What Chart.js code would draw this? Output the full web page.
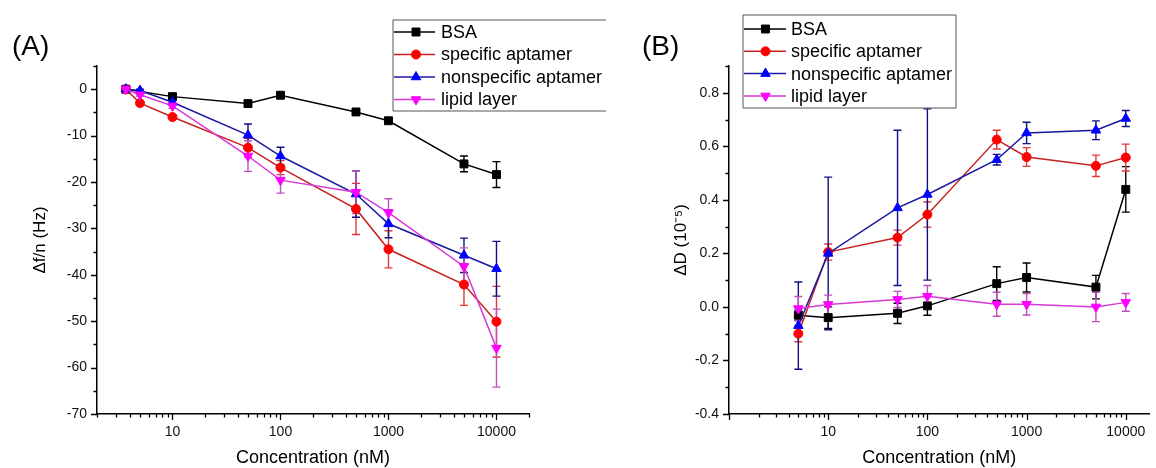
<!DOCTYPE html>
<html>
<head>
<meta charset="utf-8">
<script src="https://cdn.jsdelivr.net/npm/chart.js@4.4.0/dist/chart.umd.min.js"></script>
<style>
    body { margin: 0; background: #fff; width: 1156px; height: 468px; overflow: hidden; position: relative; }
    canvas { position: absolute; top: 0; }
    #chartA { left: 0; }
    #chartB { left: 620px; }
</style>
</head>
<body>
<canvas id="chartA" width="620" height="468"></canvas>
<canvas id="chartB" width="536" height="468"></canvas>
<script>
// Series names and tick labels
const seriesNames = ['BSA', 'specific aptamer', 'nonspecific aptamer', 'lipid layer'];
const xTickLabels = [10, 100, 1000, 10000];
const yTickLabelsA = [0, -10, -20, -30, -40, -50, -60, -70];
const yTickLabelsB = [0.8, 0.6, 0.4, 0.2, 0.0, -0.2, -0.4];

// (A) frequency shift, Hz
const concA = [3.7, 5, 10, 50, 100, 500, 1000, 5000, 10000];
const bsaA = [0, null, -1.6, -3.1, -1.3, -4.9, -6.8, -16.1, -18.4];
const bsaAErr = [0, 0, 0.3, 0.5, 0.4, 0.7, 0.5, 1.7, 2.8];
const specA = [0, -3.0, -6.0, -12.6, -16.9, -25.8, -34.5, -42.1, -50.1];
const specAErr = [0, 0.3, 0.4, 2.0, 1.5, 5.5, 4.0, 4.5, 7.6];
const nonA = [0, -0.3, -2.8, -9.9, -14.4, -22.6, -29.0, -35.8, -38.7];
const nonAErr = [0, 0.3, 0.5, 2.4, 1.9, 5.0, 3.0, 3.7, 5.9];
const lipA = [0, -1.2, -3.6, -14.4, -19.6, -22.2, -26.6, -38.2, -55.8];
const lipAErr = [0, 0.3, 0.5, 3.3, 2.8, 4.6, 3.0, 4.0, 8.4];

// (B) dissipation shift, 1e-5
const concB = [5, 10, 50, 100, 500, 1000, 5000, 10000];
const bsaB = [-0.031, -0.04, -0.024, 0.004, 0.087, 0.11, 0.074, 0.439];
const bsaBErr = [0.02, 0.04, 0.038, 0.035, 0.063, 0.054, 0.044, 0.085];
const specB = [-0.1, 0.205, 0.259, 0.345, 0.625, 0.56, 0.527, 0.558];
const specBErr = [0.03, 0.03, 0.028, 0.047, 0.035, 0.035, 0.04, 0.05];
const nonB = [-0.07, 0.2, 0.37, 0.42, 0.55, 0.65, 0.66, 0.704];
const nonBErr = [0.163, 0.285, 0.29, 0.32, 0.02, 0.04, 0.035, 0.03];
const lipB = [-0.006, 0.009, 0.028, 0.04, 0.01, 0.01, 0.0, 0.017];
const lipBErr = [0.045, 0.035, 0.03, 0.04, 0.045, 0.04, 0.055, 0.033];

const FONT = "'Liberation Sans', Arial, sans-serif";
Chart.defaults.font.family = FONT;
Chart.defaults.color = '#000';

const styles = [
    { line: '#000000', fill: '#000000', err: '#000000', shape: 'rect', r: 5.6, rot: 0 },
    { line: '#c82020', fill: '#ff0000', err: '#e03838', shape: 'circle', r: 4.5, rot: 0 },
    { line: '#1818a0', fill: '#0000ff', err: '#101080', shape: 'triangle', r: 5.5, rot: 0 },
    { line: '#d838d8', fill: '#ff00ff', err: '#c050c0', shape: 'triangle', r: 5.5, rot: 180 }
];

const makeSet = (i, xs, ys, errs) => {
    const s = styles[i];
    return {
        label: seriesNames[i],
        data: xs.map((x, k) => ({ x: x, y: ys[k] })),
        errors: errs,
        errColor: s.err,
        order: 3 - i,
        showLine: true,
        spanGaps: true,
        borderColor: s.line,
        borderWidth: 1.5,
        pointStyle: s.shape,
        pointRadius: s.r,
        pointHoverRadius: s.r,
        pointRotation: s.rot,
        pointBackgroundColor: s.fill,
        pointBorderColor: s.fill,
        pointBorderWidth: 1
    };
};

const logTicks = (min, max) => {
    const out = [];
    for (let e = 0; e <= 4; e++) {
        for (let m = 1; m <= 9; m++) {
            const v = m * Math.pow(10, e);
            if (v >= min && v <= max) out.push(v);
        }
    }
    return out;
};

const isDecade = (v) => Math.abs(Math.log10(v) - Math.round(Math.log10(v))) < 1e-9;

// Error bars, drawn under the lines and markers
const errorBars = {
    id: 'errorBars',
    beforeDatasetsDraw(chart) {
        const ctx = chart.ctx;
        const yScale = chart.scales.y;
        chart.data.datasets.forEach((ds, di) => {
            const meta = chart.getDatasetMeta(di);
            ctx.save();
            ctx.strokeStyle = ds.errColor;
            ctx.lineWidth = 1.4;
            meta.data.forEach((pt, k) => {
                const v = ds.data[k].y;
                const e = ds.errors[k];
                if (v === null || !e) return;
                const top = yScale.getPixelForValue(v + e);
                const bot = yScale.getPixelForValue(v - e);
                ctx.beginPath();
                ctx.moveTo(pt.x, top); ctx.lineTo(pt.x, bot);
                ctx.moveTo(pt.x - 4, top); ctx.lineTo(pt.x + 4, top);
                ctx.moveTo(pt.x - 4, bot); ctx.lineTo(pt.x + 4, bot);
                ctx.stroke();
            });
            ctx.restore();
        });
    }
};

// Outward tick marks, long for major, short for minor
const tickMarks = {
    id: 'tickMarks',
    afterDraw(chart, args, opts) {
        const ctx = chart.ctx;
        const { x, y } = chart.scales;
        ctx.save();
        ctx.strokeStyle = '#000';
        ctx.lineWidth = 1.3;
        ctx.beginPath();
        x.ticks.forEach(t => {
            const px = Math.round(x.getPixelForValue(t.value)) + 0.5;
            const len = isDecade(t.value) ? 6 : 3.5;
            ctx.moveTo(px, x.top); ctx.lineTo(px, x.top + len);
        });
        y.ticks.forEach(t => {
            const py = Math.round(y.getPixelForValue(t.value)) + 0.5;
            const r = t.value / opts.yMajor;
            const len = Math.abs(r - Math.round(r)) < 1e-6 ? 6 : 3.5;
            ctx.moveTo(y.right - len, py); ctx.lineTo(y.right, py);
        });
        ctx.stroke();
        ctx.restore();
    }
};

// Boxed legend and panel letter
const boxLegend = {
    id: 'boxLegend',
    afterDraw(chart, args, o) {
        const ctx = chart.ctx;
        ctx.save();
        ctx.strokeStyle = '#555';
        ctx.lineWidth = 1;
        ctx.beginPath();
        if (o.openRight) {
            ctx.moveTo(o.r, o.t); ctx.lineTo(o.l, o.t); ctx.lineTo(o.l, o.b); ctx.lineTo(o.r, o.b);
        } else {
            ctx.rect(o.l, o.t, o.r - o.l, o.b - o.t);
        }
        ctx.stroke();
        ctx.font = o.fontSize + 'px ' + FONT;
        ctx.textBaseline = 'middle';
        ctx.fillStyle = '#000';
        chart.data.datasets.forEach((ds, i) => {
            const s = styles[i];
            const ry = o.row0 + i * o.rowStep;
            ctx.strokeStyle = s.line;
            ctx.lineWidth = 1.5;
            ctx.beginPath();
            ctx.moveTo(o.line0, ry); ctx.lineTo(o.line1, ry);
            ctx.stroke();
            ctx.fillStyle = s.fill;
            ctx.strokeStyle = s.fill;
            ctx.lineWidth = 1;
            Chart.helpers.drawPoint(ctx, { pointStyle: s.shape, radius: s.r, rotation: s.rot, borderWidth: 1 }, o.mark, ry);
            ctx.fillStyle = '#000';
            ctx.fillText(ds.label, o.text, ry + 1);
        });
        ctx.font = '28px ' + FONT;
        ctx.textBaseline = 'middle';
        ctx.fillText(o.panel, o.panelX, o.panelY);
        ctx.restore();
    }
};

const makeOptions = (cfg) => ({
    responsive: false,
    animation: false,
    events: [],
    layout: { padding: cfg.padding },
    plugins: {
        legend: { display: false },
        tooltip: { enabled: false },
        tickMarks: { yMajor: cfg.yMajor },
        boxLegend: cfg.legend
    },
    scales: {
        x: {
            type: 'logarithmic',
            min: cfg.xMin,
            max: cfg.xMax,
            afterBuildTicks: (s) => { s.ticks = logTicks(cfg.xMin, cfg.xMax).map(v => ({ value: v })); },
            afterFit: (s) => { s.height = cfg.xHeight; },
            border: { display: true, color: '#000', width: 1.5 },
            grid: { display: true, drawOnChartArea: false, drawTicks: true, tickLength: 6, tickColor: 'rgba(0,0,0,0)' },
            ticks: {
                autoSkip: false, maxRotation: 0, padding: 4,
                font: { size: 14 }, color: '#111',
                callback: (v) => xTickLabels.includes(v) ? String(v) : ''
            },
            title: { display: true, text: 'Concentration (nM)', font: { size: 18, lineHeight: 1.1 }, padding: { top: 0, bottom: 0 } }
        },
        y: {
            type: 'linear',
            min: cfg.yMin,
            max: cfg.yMax,
            afterFit: (s) => { s.width = cfg.yWidth; },
            border: { display: true, color: '#000', width: 1.5 },
            grid: { display: true, drawOnChartArea: false, drawTicks: true, tickLength: 6, tickColor: 'rgba(0,0,0,0)' },
            ticks: {
                stepSize: cfg.yStep, padding: 4,
                font: { size: 14 }, color: '#111',
                callback: cfg.yLabel
            },
            title: { display: true, text: cfg.yTitle, font: { size: 17, lineHeight: 1.2 }, padding: { top: cfg.yTitlePad, bottom: 0 } }
        }
    }
});

new Chart(document.getElementById('chartA'), {
    type: 'scatter',
    data: {
        datasets: [
            makeSet(0, concA, bsaA, bsaAErr),
            makeSet(1, concA, specA, specAErr),
            makeSet(2, concA, nonA, nonAErr),
            makeSet(3, concA, lipA, lipAErr)
        ]
    },
    options: makeOptions({
        padding: { left: 0, top: 66, right: 91, bottom: 0 },
        xMin: 2, xMax: 20000, xHeight: 54,
        yMin: -70, yMax: 5, yStep: 5, yMajor: 10, yWidth: 97,
        yLabel: (v) => yTickLabelsA.includes(v) ? String(v) : '',
        yTitle: 'Δf/n (Hz)', yTitlePad: 30,
        legend: {
            l: 393, t: 20, r: 606, b: 111, openRight: true,
            row0: 32, rowStep: 22.5, line0: 394, line1: 435, mark: 416, text: 441, fontSize: 18,
            panel: '(A)', panelX: 12, panelY: 47
        }
    }),
    plugins: [errorBars, tickMarks, boxLegend]
});

new Chart(document.getElementById('chartB'), {
    type: 'scatter',
    data: {
        datasets: [
            makeSet(0, concB, bsaB, bsaBErr),
            makeSet(1, concB, specB, specBErr),
            makeSet(2, concB, nonB, nonBErr),
            makeSet(3, concB, lipB, lipBErr)
        ]
    },
    options: makeOptions({
        padding: { left: 0, top: 66, right: 0, bottom: 0 },
        xMin: 1, xMax: 17300, xHeight: 54,
        yMin: -0.4, yMax: 0.9, yStep: 0.1, yMajor: 0.2, yWidth: 109,
        yLabel: (v) => {
            const r = Math.round(v * 10) / 10;
            return yTickLabelsB.some(t => Math.abs(t - r) < 1e-9) ? (r === 0 ? 0 : r).toFixed(1) : '';
        },
        yTitle: 'ΔD (10⁻⁵)', yTitlePad: 51,
        legend: {
            l: 123, t: 15, r: 336, b: 108, openRight: false,
            row0: 29, rowStep: 22.3, line0: 124, line1: 166, mark: 145.5, text: 171, fontSize: 18,
            panel: '(B)', panelX: 22, panelY: 47
        }
    }),
    plugins: [errorBars, tickMarks, boxLegend]
});
</script>
</body>
</html>
